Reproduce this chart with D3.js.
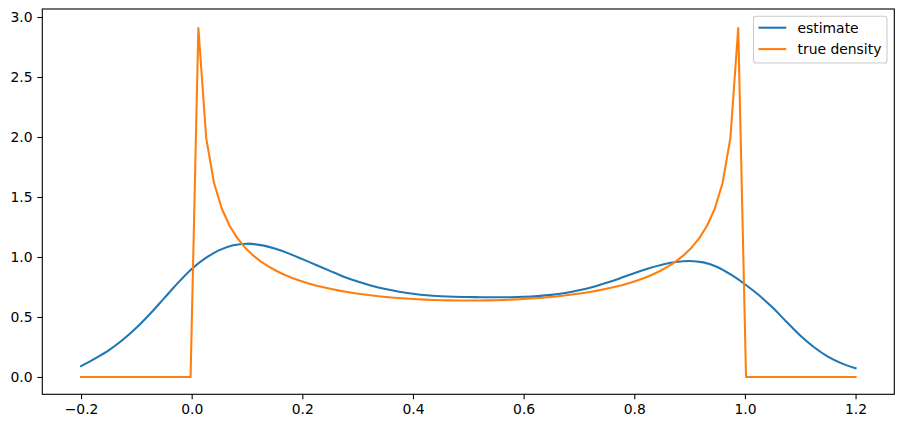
<!DOCTYPE html>
<html>
<head>
<meta charset="utf-8">
<script src="https://cdn.jsdelivr.net/npm/d3@7"></script>
<style>
  body { margin: 0; background: #fff; }
  svg { display: block; font-family: "DejaVu Sans", sans-serif; }
</style>
</head>
<body>
<svg id="chart"></svg>
<script>
// grid the true density was evaluated on
const gridX = [
  -0.2000, -0.1859, -0.1717, -0.1576, -0.1434, -0.1293, -0.1152, -0.1010, -0.0869, -0.0727,
  -0.0586, -0.0444, -0.0303, -0.0162, -0.0020, 0.0121, 0.0263, 0.0404, 0.0545, 0.0687,
  0.0828, 0.0970, 0.1111, 0.1253, 0.1394, 0.1535, 0.1677, 0.1818, 0.1960, 0.2101,
  0.2242, 0.2384, 0.2525, 0.2667, 0.2808, 0.2949, 0.3091, 0.3232, 0.3374, 0.3515,
  0.3657, 0.3798, 0.3939, 0.4081, 0.4222, 0.4364, 0.4505, 0.4646, 0.4788, 0.4929,
  0.5071, 0.5212, 0.5354, 0.5495, 0.5636, 0.5778, 0.5919, 0.6061, 0.6202, 0.6343,
  0.6485, 0.6626, 0.6768, 0.6909, 0.7051, 0.7192, 0.7333, 0.7475, 0.7616, 0.7758,
  0.7899, 0.8040, 0.8182, 0.8323, 0.8465, 0.8606, 0.8747, 0.8889, 0.9030, 0.9172,
  0.9313, 0.9455, 0.9596, 0.9737, 0.9879, 1.0020, 1.0162, 1.0303, 1.0444, 1.0586,
  1.0727, 1.0869, 1.1010, 1.1152, 1.1293, 1.1434, 1.1576, 1.1717, 1.1859, 1.2000
];
const trueDensity = [
  0, 0, 0, 0, 0, 0, 0, 0, 0, 0,
  0, 0, 0, 0, 0, 2.9089, 1.9905, 1.6166, 1.4017, 1.2585,
  1.1549, 1.0757, 1.0129, 0.9616, 0.9190, 0.8830, 0.8521, 0.8253, 0.8019, 0.7814,
  0.7632, 0.7470, 0.7327, 0.7198, 0.7083, 0.6980, 0.6888, 0.6806, 0.6732, 0.6667,
  0.6609, 0.6558, 0.6514, 0.6477, 0.6445, 0.6418, 0.6398, 0.6382, 0.6372, 0.6367,
  0.6367, 0.6372, 0.6382, 0.6398, 0.6418, 0.6445, 0.6477, 0.6514, 0.6558, 0.6609,
  0.6667, 0.6732, 0.6806, 0.6888, 0.6980, 0.7083, 0.7198, 0.7327, 0.7470, 0.7632,
  0.7814, 0.8019, 0.8253, 0.8521, 0.8830, 0.9190, 0.9616, 1.0129, 1.0757, 1.1549,
  1.2585, 1.4017, 1.6166, 1.9905, 2.9089, 0, 0, 0, 0, 0,
  0, 0, 0, 0, 0, 0, 0, 0, 0, 0
];

// kernel estimate
const estX = [
  -0.200, -0.175, -0.150, -0.125, -0.100, -0.075, -0.050, -0.025,
  0.000, 0.025, 0.050, 0.075, 0.100, 0.125, 0.150, 0.175,
  0.200, 0.225, 0.250, 0.275, 0.300, 0.325, 0.350, 0.375,
  0.400, 0.425, 0.450, 0.475, 0.500, 0.525, 0.550, 0.575,
  0.600, 0.625, 0.650, 0.675, 0.700, 0.725, 0.750, 0.775,
  0.800, 0.825, 0.850, 0.875, 0.900, 0.925, 0.950, 0.975,
  1.000, 1.025, 1.050, 1.075, 1.100, 1.125, 1.150, 1.175, 1.200
];
const estimate = [
  0.090, 0.153, 0.222, 0.308, 0.410, 0.527, 0.655, 0.783,
  0.900, 0.990, 1.057, 1.098, 1.111, 1.099, 1.070, 1.030,
  0.982, 0.933, 0.884, 0.836, 0.795, 0.761, 0.733, 0.711,
  0.694, 0.681, 0.673, 0.668, 0.666, 0.665, 0.664, 0.665,
  0.668, 0.674, 0.684, 0.700, 0.722, 0.750, 0.785, 0.824,
  0.865, 0.904, 0.936, 0.958, 0.967, 0.955, 0.917, 0.852,
  0.773, 0.683, 0.578, 0.460, 0.345, 0.248, 0.170, 0.113, 0.073
];

const xTicks = [-0.2, 0.0, 0.2, 0.4, 0.6, 0.8, 1.0, 1.2];
const yTicks = [0.0, 0.5, 1.0, 1.5, 2.0, 2.5, 3.0];
const seriesNames = ["estimate", "true density"];
const seriesColors = ["#1f77b4", "#ff7f0e"];

const width = 904, height = 428;
const padL = 42.3, padR = 894.3, padT = 9, padB = 394.3;
const tickLen = 4.9, fontSize = 13.9;

const svg = d3.select("#chart")
              .attr("width", width)
              .attr("height", height);

const xScale = d3.scaleLinear()
                 .domain([-0.27, 1.27])
                 .range([padL, padR]);

const yScale = d3.scaleLinear()
                 .domain([-0.1444, 3.0667])
                 .range([padB, padT]);

const fmt = v => d3.format(".1f")(v).replace("-", "\u2212");

// axes
const xAxis = d3.axisBottom(xScale)
                .tickValues(xTicks)
                .tickFormat(fmt)
                .tickSize(tickLen)
                .tickPadding(4.9);
const yAxis = d3.axisLeft(yScale)
                .tickValues(yTicks)
                .tickFormat(fmt)
                .tickSize(tickLen)
                .tickPadding(4.9);

const gx = svg.append("g")
              .attr("transform", `translate(0,${padB})`)
              .call(xAxis);
const gy = svg.append("g")
              .attr("transform", `translate(${padL},0)`)
              .call(yAxis);

[gx, gy].forEach(g => {
    g.select(".domain").remove();
    g.selectAll(".tick line").attr("stroke", "#000").attr("stroke-width", 1.1);
    g.selectAll(".tick text")
     .attr("fill", "#000")
     .style("font-size", fontSize + "px")
     .style("font-family", "'DejaVu Sans', sans-serif");
});

// lines
svg.append("clipPath").attr("id", "plot-clip")
   .append("rect")
   .attr("x", padL).attr("y", padT)
   .attr("width", padR - padL).attr("height", padB - padT);

const plot = svg.append("g").attr("clip-path", "url(#plot-clip)");

const estLine = d3.line()
                  .x((d, i) => xScale(estX[i]))
                  .y(d => yScale(d))
                  .curve(d3.curveCatmullRom.alpha(0.5));

const trueLine = d3.line()
                   .x((d, i) => xScale(gridX[i]))
                   .y(d => yScale(d));

plot.append("path")
    .datum(estimate)
    .attr("d", estLine)
    .attr("fill", "none")
    .attr("stroke", seriesColors[0])
    .attr("stroke-width", 2.08)
    .attr("stroke-linejoin", "round")
    .attr("stroke-linecap", "square");

plot.append("path")
    .datum(trueDensity)
    .attr("d", trueLine)
    .attr("fill", "none")
    .attr("stroke", seriesColors[1])
    .attr("stroke-width", 2.08)
    .attr("stroke-linejoin", "round")
    .attr("stroke-linecap", "square");

// frame
svg.append("rect")
   .attr("x", padL)
   .attr("y", padT)
   .attr("width", padR - padL)
   .attr("height", padB - padT)
   .attr("fill", "none")
   .attr("stroke", "#000")
   .attr("stroke-width", 1.1);

// legend
const legend = svg.append("g");
legend.append("rect")
      .attr("x", 753.5)
      .attr("y", 16.3)
      .attr("width", 133.5)
      .attr("height", 46.7)
      .attr("rx", 2.8)
      .attr("fill", "#fff")
      .attr("fill-opacity", 0.8)
      .attr("stroke", "#cccccc")
      .attr("stroke-width", 1.1);

seriesNames.forEach((name, i) => {
    const y = 27.7 + i * 21.4;
    legend.append("line")
          .attr("x1", 758.5).attr("x2", 786.3)
          .attr("y1", y).attr("y2", y)
          .attr("stroke", seriesColors[i])
          .attr("stroke-width", 2.08);
    legend.append("text")
          .attr("x", 797.5)
          .attr("y", y)
          .attr("dy", "0.36em")
          .attr("fill", "#000")
          .style("font-size", fontSize + "px")
          .text(name);
});
</script>
</body>
</html>
